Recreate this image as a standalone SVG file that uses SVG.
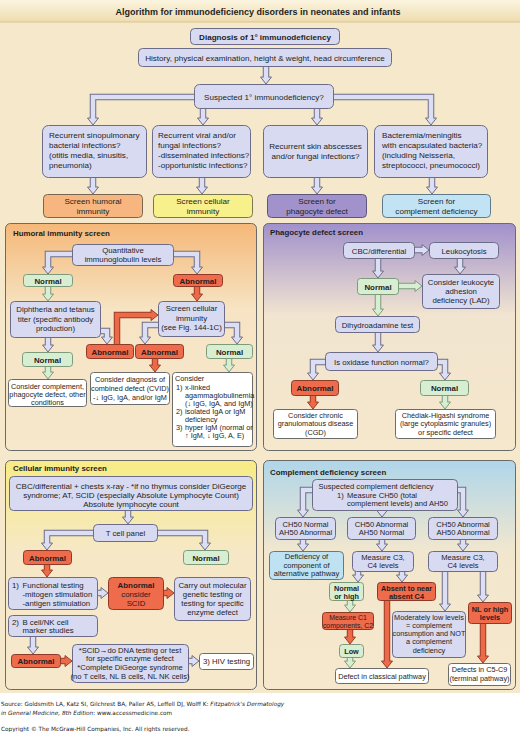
<svg xmlns="http://www.w3.org/2000/svg" width="520" height="732" viewBox="0 0 520 732">
<defs>
<linearGradient id="gT" x1="0" y1="0" x2="0" y2="1"><stop offset="0" stop-color="#fbf4e0"/><stop offset="1" stop-color="#eedcae"/></linearGradient>
<linearGradient id="gH" x1="0" y1="0" x2="0" y2="1"><stop offset="0" stop-color="#f5b878"/><stop offset="0.38" stop-color="#f6e4c4"/><stop offset="1" stop-color="#f6e8cc"/></linearGradient>
<linearGradient id="gP" x1="0" y1="0" x2="0" y2="1"><stop offset="0" stop-color="#a090cc"/><stop offset="0.4" stop-color="#f1e4d0"/><stop offset="1" stop-color="#f6e8cc"/></linearGradient>
<linearGradient id="gC" x1="0" y1="0" x2="0" y2="1"><stop offset="0" stop-color="#f7ec84"/><stop offset="0.4" stop-color="#f6e8c6"/><stop offset="1" stop-color="#f6e8cc"/></linearGradient>
<linearGradient id="gK" x1="0" y1="0" x2="0" y2="1"><stop offset="0" stop-color="#afd6ea"/><stop offset="0.4" stop-color="#f2e7ce"/><stop offset="1" stop-color="#f6e8cc"/></linearGradient>
<path id="hd" d="M-5.5,-7 L5.5,-7 L0,0 Z"/>
</defs>
<style>
.t{font-family:"Liberation Sans",Arial,Helvetica,sans-serif;fill:#1e1e1e}
.f8{font-size:8.1px}
.f78{font-size:7.8px}
.fk{font-size:7.6px}
.f7{font-size:7.3px}
.fb{font-size:7.9px;font-weight:bold}
.fkb{font-size:7.3px;font-weight:bold}
.m{text-anchor:middle}
.b{font-weight:bold}
.n{fill:#d7daf1;stroke:#6c6c88;stroke-width:1}
.nm{fill:#d8eed3;stroke:#7d9b7a;stroke-width:1}
.ab{fill:#ee6b4c;stroke:#8f3a27;stroke-width:1}
.w{fill:#ffffff;stroke:#6c6c6c;stroke-width:1}
.pan{stroke:#6a6a6a;stroke-width:1}
.o{fill:none;stroke-width:6.5}
.i{fill:none;stroke-width:4.5}
.L .o{stroke:#6c6c88}.L .i{stroke:#dcdef3}.L use{fill:#dcdef3;stroke:#6c6c88;stroke-width:1}
.G .o{stroke:#7d9b7a}.G .i{stroke:#d8eed3}.G use{fill:#d8eed3;stroke:#7d9b7a;stroke-width:1}
.R .o{stroke:#9a3d28}.R .i{stroke:#ec6a48}.R use{fill:#ec6a48;stroke:#9a3d28;stroke-width:1}
.ft{font-family:"DejaVu Sans",Verdana,sans-serif;font-size:5.75px;fill:#222}
</style>

<!-- background -->
<rect x="0" y="0" width="520" height="693" fill="#f6e8ca"/>
<rect x="0" y="0" width="520" height="22" fill="url(#gT)"/>
<line x1="0" y1="22" x2="520" y2="22" stroke="#d9c48e" stroke-width="1"/>
<text class="t b m" x="258" y="14.5" font-size="9px">Algorithm for immunodeficiency disorders in neonates and infants</text>

<!-- panels -->
<g id="panel-humoral"><rect class="pan" x="5.5" y="223.5" width="251" height="227" rx="5" fill="url(#gH)"/><text class="t fb" x="13" y="236">Humoral immunity screen</text></g>
<g id="panel-phagocyte"><rect class="pan" x="263.5" y="223.5" width="252" height="227" rx="5" fill="url(#gP)"/><text class="t fb" x="270" y="235">Phagocyte defect screen</text></g>
<g id="panel-cellular"><rect class="pan" x="5.5" y="460.5" width="251" height="229" rx="5" fill="url(#gC)"/><text class="t fb" x="13" y="471">Cellular immunity screen</text></g>
<g id="panel-complement"><rect class="pan" x="263.5" y="460.5" width="252" height="229" rx="5" fill="url(#gK)"/><text class="t fb" x="270" y="475">Complement deficiency screen</text></g>

<!-- connectors -->
<g id="connectors">
<g class="L"><path class="o" d="M266,64V77"/><use href="#hd" transform="translate(266,84)"/><path class="i" d="M266,64V78"/></g>
<g class="L"><path class="o" d="M198,97H93V118"/><use href="#hd" transform="translate(93,125)"/><path class="i" d="M198,97H93V119"/></g>
<g class="L"><path class="o" d="M203,106V118"/><use href="#hd" transform="translate(203,125)"/><path class="i" d="M203,106V119"/></g>
<g class="L"><path class="o" d="M317,106V118"/><use href="#hd" transform="translate(317,125)"/><path class="i" d="M317,106V119"/></g>
<g class="L"><path class="o" d="M329,97H431V118"/><use href="#hd" transform="translate(431,125)"/><path class="i" d="M329,97H431V119"/></g>
<g class="L"><path class="o" d="M93,176V187"/><use href="#hd" transform="translate(93,194)"/><path class="i" d="M93,176V188"/></g>
<g class="L"><path class="o" d="M202,176V187"/><use href="#hd" transform="translate(202,194)"/><path class="i" d="M202,176V188"/></g>
<g class="L"><path class="o" d="M317,176V187"/><use href="#hd" transform="translate(317,194)"/><path class="i" d="M317,176V188"/></g>
<g class="L"><path class="o" d="M432,176V187"/><use href="#hd" transform="translate(432,194)"/><path class="i" d="M432,176V188"/></g>

<g class="L"><path class="o" d="M76,254H48V267"/><use href="#hd" transform="translate(48,274)"/><path class="i" d="M76,254H48V268"/></g>
<g class="L"><path class="o" d="M169,254H197V267"/><use href="#hd" transform="translate(197,274)"/><path class="i" d="M169,254H197V268"/></g>
<g class="G"><path class="o" d="M48,285V294"/><use href="#hd" transform="translate(48,301)"/><path class="i" d="M48,285V295"/></g>
<g class="R"><path class="o" d="M197,285V294"/><use href="#hd" transform="translate(197,301)"/><path class="i" d="M197,285V295"/></g>
<g class="L"><path class="o" d="M48,336V345"/><use href="#hd" transform="translate(48,352)"/><path class="i" d="M48,336V346"/></g>
<g class="L"><path class="o" d="M96,331H107V337"/><use href="#hd" transform="translate(107,344)"/><path class="i" d="M96,331H107V338"/></g>
<g class="R"><path class="o" d="M117,346V315H151"/><use href="#hd" transform="translate(158,315) rotate(-90)"/><path class="i" d="M117,346V315H152"/></g>
<g class="L"><path class="o" d="M162,325H145V337"/><use href="#hd" transform="translate(145,344)"/><path class="i" d="M162,325H145V338"/></g>
<g class="L"><path class="o" d="M221,325H237V337"/><use href="#hd" transform="translate(237,344)"/><path class="i" d="M221,325H237V338"/></g>
<g class="R"><path class="o" d="M155,357V365"/><use href="#hd" transform="translate(155,372)"/><path class="i" d="M155,357V366"/></g>
<g class="G"><path class="o" d="M48,365V372"/><use href="#hd" transform="translate(48,379)"/><path class="i" d="M48,365V373"/></g>
<g class="G"><path class="o" d="M229,357V365"/><use href="#hd" transform="translate(229,372)"/><path class="i" d="M229,357V366"/></g>

<g class="L"><path class="o" d="M411,250H422"/><use href="#hd" transform="translate(429,250) rotate(-90)"/><path class="i" d="M411,250H423"/></g>
<g class="L"><path class="o" d="M378,257V271"/><use href="#hd" transform="translate(378,278)"/><path class="i" d="M378,257V272"/></g>
<g class="L"><path class="o" d="M460,257V267"/><use href="#hd" transform="translate(460,274)"/><path class="i" d="M460,257V268"/></g>
<g class="G"><path class="o" d="M396,286H415"/><use href="#hd" transform="translate(422,286) rotate(-90)"/><path class="i" d="M396,286H416"/></g>
<g class="G"><path class="o" d="M378,293V309"/><use href="#hd" transform="translate(378,316)"/><path class="i" d="M378,293V310"/></g>
<g class="L"><path class="o" d="M378,331V345"/><use href="#hd" transform="translate(378,352)"/><path class="i" d="M378,331V346"/></g>
<g class="L"><path class="o" d="M329,362H313V373"/><use href="#hd" transform="translate(313,380)"/><path class="i" d="M329,362H313V374"/></g>
<g class="L"><path class="o" d="M433,362H445V373"/><use href="#hd" transform="translate(445,380)"/><path class="i" d="M433,362H445V374"/></g>
<g class="R"><path class="o" d="M313,394V402"/><use href="#hd" transform="translate(313,409)"/><path class="i" d="M313,394V403"/></g>
<g class="G"><path class="o" d="M445,394V402"/><use href="#hd" transform="translate(445,409)"/><path class="i" d="M445,394V403"/></g>

<g class="L"><path class="o" d="M128,509V517"/><use href="#hd" transform="translate(128,524)"/><path class="i" d="M128,509V518"/></g>
<g class="L"><path class="o" d="M97,533H47V543"/><use href="#hd" transform="translate(47,550)"/><path class="i" d="M97,533H47V544"/></g>
<g class="L"><path class="o" d="M153,533H205V543"/><use href="#hd" transform="translate(205,550)"/><path class="i" d="M153,533H205V544"/></g>
<g class="R"><path class="o" d="M47,563V570"/><use href="#hd" transform="translate(47,577)"/><path class="i" d="M47,563V571"/></g>
<g class="L"><path class="o" d="M95,593H101"/><use href="#hd" transform="translate(108,593) rotate(-90)"/><path class="i" d="M95,593H102"/></g>
<g class="R"><path class="o" d="M161,593H167"/><use href="#hd" transform="translate(174,593) rotate(-90)"/><path class="i" d="M161,593H168"/></g>
<g class="L"><path class="o" d="M33,634V647"/><use href="#hd" transform="translate(33,654)"/><path class="i" d="M33,634V648"/></g>
<g class="R"><path class="o" d="M58,661H65"/><use href="#hd" transform="translate(72,661) rotate(-90)"/><path class="i" d="M58,661H66"/></g>
<g class="L"><path class="o" d="M186,661H192"/><use href="#hd" transform="translate(199,661) rotate(-90)"/><path class="i" d="M186,661H193"/></g>

<g class="L"><path class="o" d="M316,490H303V510"/><use href="#hd" transform="translate(303,517)"/><path class="i" d="M316,490H303V511"/></g>
<g class="L"><path class="o" d="M382,508V510"/><use href="#hd" transform="translate(382,517)"/><path class="i" d="M382,508V511"/></g>
<g class="L"><path class="o" d="M453,490H463V510"/><use href="#hd" transform="translate(463,517)"/><path class="i" d="M453,490H463V511"/></g>
<g class="L"><path class="o" d="M303,537V544"/><use href="#hd" transform="translate(303,551)"/><path class="i" d="M303,537V545"/></g>
<g class="L"><path class="o" d="M382,537V544"/><use href="#hd" transform="translate(382,551)"/><path class="i" d="M382,537V545"/></g>
<g class="L"><path class="o" d="M463,537V544"/><use href="#hd" transform="translate(463,551)"/><path class="i" d="M463,537V545"/></g>
<g class="L"><path class="o" d="M358,570V575"/><use href="#hd" transform="translate(358,582)"/><path class="i" d="M358,570V576"/></g>
<g class="L"><path class="o" d="M402,570V575"/><use href="#hd" transform="translate(402,582)"/><path class="i" d="M402,570V576"/></g>
<g class="L"><path class="o" d="M445,570V604"/><use href="#hd" transform="translate(445,611)"/><path class="i" d="M445,570V605"/></g>
<g class="L"><path class="o" d="M483,570V595"/><use href="#hd" transform="translate(483,602)"/><path class="i" d="M483,570V596"/></g>
<g class="G"><path class="o" d="M350,599V605"/><use href="#hd" transform="translate(350,612)"/><path class="i" d="M350,599V606"/></g>
<g class="R"><path class="o" d="M350,628V637"/><use href="#hd" transform="translate(350,644)"/><path class="i" d="M350,628V638"/></g>
<g class="G"><path class="o" d="M350,656V661"/><use href="#hd" transform="translate(350,668)"/><path class="i" d="M350,656V662"/></g>
<g class="R"><path class="o" d="M387,599V661"/><use href="#hd" transform="translate(387,668)"/><path class="i" d="M387,599V662"/></g>
<g class="R"><path class="o" d="M483,622V656"/><use href="#hd" transform="translate(483,663)"/><path class="i" d="M483,622V657"/></g>
</g>

<!-- top nodes -->
<g id="diagnosis"><rect class="n" x="190.5" y="28.5" width="149" height="16" rx="4"/><text class="t b f8 m" x="265" y="39.5">Diagnosis of 1° immunodeficiency</text></g>
<g id="history"><rect class="n" x="138.5" y="48.5" width="253" height="18" rx="4"/><text class="t f8 m" x="265" y="60.5">History, physical examination, height &amp; weight, head circumference</text></g>
<g id="suspected"><rect class="n" x="194.5" y="84.5" width="139" height="24" rx="5"/><text class="t f8 m" x="264" y="99.5">Suspected 1° immunodeficiency?</text></g>

<g id="q-humoral"><rect class="n" x="42.5" y="125.5" width="104" height="52" rx="6"/>
<text class="t f8" x="49" y="138">Recurrent sinopulmonary</text><text class="t f8" x="49" y="148">bacterial infections?</text><text class="t f8" x="49" y="158">(otitis media, sinusitis,</text><text class="t f8" x="49" y="168">pneumonia)</text></g>
<g id="q-cellular"><rect class="n" x="152.5" y="125.5" width="98" height="52" rx="6"/>
<text class="t f8" x="158" y="138">Recurrent viral and/or</text><text class="t f8" x="158" y="148">fungal infections?</text><text class="t f8" x="158" y="158">-disseminated infections?</text><text class="t f8" x="158" y="168">-opportunistic infections?</text></g>
<g id="q-phagocyte"><rect class="n" x="263.5" y="125.5" width="104" height="52" rx="6"/>
<text class="t f8 m" x="315.5" y="149">Recurrent skin abscesses</text><text class="t f8 m" x="315.5" y="159">and/or fungal infections?</text></g>
<g id="q-complement"><rect class="n" x="374.5" y="125.5" width="113" height="52" rx="6"/>
<text class="t f8" x="382" y="138">Bacteremia/meningitis</text><text class="t f8" x="382" y="148">with encapsulated bacteria?</text><text class="t f8" x="382" y="158">(including Neisseria,</text><text class="t f8" x="382" y="168">streptococci, pneumococci)</text></g>

<g id="s-humoral"><rect x="43.5" y="194.5" width="99" height="23" rx="4" fill="#f7b67f" stroke="#7a6650"/><text class="t f8 m" x="93" y="203.5">Screen humoral</text><text class="t f8 m" x="93" y="213.5">immunity</text></g>
<g id="s-cellular"><rect x="153.5" y="194.5" width="99" height="23" rx="4" fill="#f8f08b" stroke="#7a7650"/><text class="t f8 m" x="203" y="203.5">Screen cellular</text><text class="t f8 m" x="203" y="213.5">immunity</text></g>
<g id="s-phagocyte"><rect x="267.5" y="194.5" width="99" height="23" rx="4" fill="#a292cb" stroke="#5e567a"/><text class="t f8 m" x="317" y="203.5">Screen for</text><text class="t f8 m" x="317" y="213.5">phagocyte defect</text></g>
<g id="s-complement"><rect x="382.5" y="194.5" width="108" height="23" rx="4" fill="#c2e3f3" stroke="#5f7a88"/><text class="t f8 m" x="436.5" y="203.5">Screen for</text><text class="t f8 m" x="436.5" y="213.5">complement deficiency</text></g>

<!-- humoral nodes -->
<g id="h-quant"><rect class="n" x="72.5" y="244.5" width="101" height="21" rx="4"/><text class="t f78 m" x="123" y="253">Quantitative</text><text class="t f78 m" x="123" y="262">immunoglobulin levels</text></g>
<g id="h-normal1"><rect class="nm" x="23.5" y="274.5" width="49" height="12" rx="3"/><text class="t fb m" x="48" y="283.5">Normal</text></g>
<g id="h-abn1"><rect class="ab" x="173.5" y="274.5" width="49" height="12" rx="3"/><text class="t fb m" x="198" y="283.5">Abnormal</text></g>
<g id="h-diph"><rect class="n" x="10.5" y="301.5" width="90" height="36" rx="4"/><text class="t f78 m" x="55.5" y="312">Diphtheria and tetanus</text><text class="t f78 m" x="55.5" y="321.5">titer (specific antibody</text><text class="t f78 m" x="55.5" y="331">production)</text></g>
<g id="h-screencell"><rect class="n" x="158.5" y="301.5" width="66" height="35" rx="4"/><text class="t f78 m" x="191.5" y="311">Screen cellular</text><text class="t f78 m" x="191.5" y="320.5">immunity</text><text class="t f78 m" x="191.5" y="330">(see Fig. 144-1C)</text></g>
<g id="h-abn2"><rect class="ab" x="86.5" y="344.5" width="47" height="14" rx="3"/><text class="t fb m" x="110" y="354.5">Abnormal</text></g>
<g id="h-abn3"><rect class="ab" x="135.5" y="344.5" width="48" height="14" rx="3"/><text class="t fb m" x="159.5" y="354.5">Abnormal</text></g>
<g id="h-normal3"><rect class="nm" x="206.5" y="344.5" width="46" height="14" rx="3"/><text class="t fb m" x="229.5" y="354.5">Normal</text></g>
<g id="h-normal2"><rect class="nm" x="22.5" y="352.5" width="50" height="14" rx="3"/><text class="t fb m" x="47.5" y="362.5">Normal</text></g>
<g id="h-other"><rect class="w" x="8.5" y="379.5" width="78" height="27" rx="3"/><text class="t f7 m" x="47.5" y="389">Consider complement,</text><text class="t f7 m" x="47.5" y="397">phagocyte defect, other</text><text class="t f7 m" x="47.5" y="405">conditions</text></g>
<g id="h-cvid"><rect class="w" x="90.5" y="372.5" width="79" height="32" rx="3"/><text class="t f7 m" x="130" y="381.5">Consider diagnosis of</text><text class="t f7 m" x="130" y="390.5">combined defect (CVID)</text><text class="t f7 m" x="130" y="399.5">-↓ IgG, IgA, and/or IgM</text></g>
<g id="h-consider"><rect class="w" x="172.5" y="372.5" width="80" height="74" rx="3"/>
<text class="t f7" x="175" y="381">Consider</text>
<text class="t f7" x="176" y="389.5">1)</text><text class="t f7" x="185" y="389.5">x-linked</text>
<text class="t f7" x="185" y="397.5">agammaglobulinemia</text>
<text class="t f7" x="185" y="405.5">(↓ IgG, IgA, and IgM)</text>
<text class="t f7" x="176" y="413.5">2)</text><text class="t f7" x="185" y="413.5">isolated IgA or IgM</text>
<text class="t f7" x="185" y="421.5">deficiency</text>
<text class="t f7" x="176" y="429.5">3)</text><text class="t f7" x="185" y="429.5">hyper IgM (normal or</text>
<text class="t f7" x="185" y="437.5">↑ IgM, ↓ IgG, A, E)</text></g>

<!-- phagocyte nodes -->
<g id="p-cbc"><rect class="n" x="343.5" y="242.5" width="71" height="16" rx="4"/><text class="t f78 m" x="379" y="253.5">CBC/differential</text></g>
<g id="p-leuko"><rect class="n" x="429.5" y="242.5" width="69" height="16" rx="4"/><text class="t f78 m" x="464" y="253.5">Leukocytosis</text></g>
<g id="p-normal"><rect class="nm" x="357.5" y="278.5" width="41" height="16" rx="3"/><text class="t fb m" x="378" y="289.5">Normal</text></g>
<g id="p-lad"><rect class="n" x="422.5" y="274.5" width="77" height="34" rx="4"/><text class="t f78 m" x="461" y="284.5">Consider leukocyte</text><text class="t f78 m" x="461" y="293.5">adhesion</text><text class="t f78 m" x="461" y="302.5">deficiency (LAD)</text></g>
<g id="p-dhr"><rect class="n" x="335.5" y="316.5" width="84" height="16" rx="4"/><text class="t f78 m" x="377.5" y="327.5">Dihydroadamine test</text></g>
<g id="p-oxidase"><rect class="n" x="325.5" y="352.5" width="112" height="18" rx="4"/><text class="t f78 m" x="381.5" y="364.5">Is oxidase function normal?</text></g>
<g id="p-abn"><rect class="ab" x="291.5" y="380.5" width="47" height="15" rx="3"/><text class="t fb m" x="315" y="391">Abnormal</text></g>
<g id="p-norm2"><rect class="nm" x="420.5" y="380.5" width="48" height="15" rx="3"/><text class="t fb m" x="444.5" y="391">Normal</text></g>
<g id="p-cgd"><rect class="w" x="273.5" y="409.5" width="84" height="29" rx="3"/><text class="t f7 m" x="315.5" y="417.5">Consider chronic</text><text class="t f7 m" x="315.5" y="426">granulomatous disease</text><text class="t f7 m" x="315.5" y="434.5">(CGD)</text></g>
<g id="p-chs"><rect class="w" x="395.5" y="409.5" width="100" height="29" rx="3"/><text class="t f7 m" x="445.5" y="417.5">Chédiak-Higashi syndrome</text><text class="t f7 m" x="445.5" y="426">(large cytoplasmic granules)</text><text class="t f7 m" x="445.5" y="434.5">or specific defect</text></g>

<!-- cellular nodes -->
<g id="c-cbc"><rect class="n" x="9.5" y="476.5" width="243" height="34" rx="4"/><text class="t m" font-size="8px" x="131" y="488.5">CBC/differential + chests x-ray - *if no thymus consider DiGeorge</text><text class="t m" font-size="8px" x="131" y="497.5">syndrome; AT, SCID (especially Absolute Lymphocyte Count)</text><text class="t m" font-size="8px" x="131" y="506.5">Absolute lymphocyte count</text></g>
<g id="c-tcell"><rect class="n" x="93.5" y="524.5" width="64" height="17" rx="4"/><text class="t f78 m" x="125.5" y="535.5">T cell panel</text></g>
<g id="c-abn"><rect class="ab" x="23.5" y="550.5" width="48" height="14" rx="3"/><text class="t fb m" x="47.5" y="560.5">Abnormal</text></g>
<g id="c-normal"><rect class="nm" x="183.5" y="550.5" width="45" height="14" rx="3"/><text class="t fb m" x="206" y="560.5">Normal</text></g>
<g id="c-func"><rect class="n" x="8.5" y="577.5" width="89" height="32" rx="4"/><text class="t f78" x="12" y="587.5">1)</text><text class="t f78" x="22.5" y="587.5">Functional testing</text><text class="t f78" x="22.5" y="596.5">-mitogen stimulation</text><text class="t f78" x="22.5" y="605.5">-antigen stimulation</text></g>
<g id="c-scid"><rect class="ab" x="108.5" y="577.5" width="55" height="32" rx="4"/><text class="t fb m" x="136" y="588">Abnormal</text><text class="t f78 m" x="136" y="597">consider</text><text class="t f78 m" x="136" y="606">SCID</text></g>
<g id="c-molec"><rect class="n" x="174.5" y="577.5" width="76" height="43" rx="4"/><text class="t f78 m" x="212.5" y="588">Carry out molecular</text><text class="t f78 m" x="212.5" y="597">genetic testing or</text><text class="t f78 m" x="212.5" y="606">testing for specific</text><text class="t f78 m" x="212.5" y="615">enzyme defect</text></g>
<g id="c-bcell"><rect class="n" x="8.5" y="615.5" width="89" height="21" rx="4"/><text class="t f78" x="12" y="624.5">2)</text><text class="t f78" x="22.5" y="624.5">B cell/NK cell</text><text class="t f78" x="22.5" y="633">marker studies</text></g>
<g id="c-abn2"><rect class="ab" x="11.5" y="654.5" width="49" height="13" rx="3"/><text class="t fb m" x="36" y="664">Abnormal</text></g>
<g id="c-dna"><rect class="n" x="72.5" y="644.5" width="116" height="38" rx="4"/><text class="t fk m" x="130" y="652.5">*SCID→do DNA testing or test</text><text class="t fk m" x="130" y="661">for specific enzyme defect</text><text class="t fk m" x="130" y="669.5">*Complete DiGeorge syndrome</text><text class="t fk m" x="130" y="678.5">(no T cells, NL B cells, NL NK cells)</text></g>
<g id="c-hiv"><rect class="w" x="199.5" y="653.5" width="54" height="16" rx="3"/><text class="t f78 m" x="226.5" y="664">3)  HIV testing</text></g>

<!-- complement nodes -->
<g id="k-susp"><rect class="n" x="312.5" y="479.5" width="145" height="31" rx="4"/><text class="t fk m" x="376" y="488.5">Suspected complement deficiency</text><text class="t fk" x="337" y="497.5">1)</text><text class="t fk" x="347" y="497.5">Measure CH50 (total</text><text class="t fk" x="347" y="505.5">complement levels) and AH50</text></g>
<g id="k-b1"><rect class="n" x="275.5" y="517.5" width="60" height="22" rx="4"/><text class="t fk m" x="305.5" y="526.5">CH50 Normal</text><text class="t fk m" x="305.5" y="535">AH50 Abnormal</text></g>
<g id="k-b2"><rect class="n" x="347.5" y="517.5" width="68" height="22" rx="4"/><text class="t fk m" x="381.5" y="526.5">CH50 Abnormal</text><text class="t fk m" x="381.5" y="535">AH50 Normal</text></g>
<g id="k-b3"><rect class="n" x="428.5" y="517.5" width="69" height="22" rx="4"/><text class="t fk m" x="463" y="526.5">CH50 Abnormal</text><text class="t fk m" x="463" y="535">AH50 Abnormal</text></g>
<g id="k-alt"><rect x="269.5" y="551.5" width="74" height="28" rx="4" fill="#bfe2f3" stroke="#5f7a88"/><text class="t fk m" x="306.5" y="559">Deficiency of</text><text class="t fk m" x="306.5" y="567.5">component of</text><text class="t fk m" x="306.5" y="576">alternative pathway</text></g>
<g id="k-c3a"><rect class="n" x="352.5" y="551.5" width="61" height="20" rx="4"/><text class="t fk m" x="383" y="559.5">Measure C3,</text><text class="t fk m" x="383" y="568">C4 levels</text></g>
<g id="k-c3b"><rect class="n" x="428.5" y="551.5" width="69" height="20" rx="4"/><text class="t fk m" x="463" y="559.5">Measure C3,</text><text class="t fk m" x="463" y="568">C4 levels</text></g>
<g id="k-normhigh"><rect class="nm" x="329.5" y="582.5" width="34" height="18" rx="3"/><text class="t fkb m" x="346.5" y="590.5">Normal</text><text class="t fkb m" x="346.5" y="598.5">or  high</text></g>
<g id="k-absent"><rect class="ab" x="377.5" y="582.5" width="58" height="18" rx="3"/><text class="t fkb m" x="406.5" y="590.5">Absent to near</text><text class="t fkb m" x="406.5" y="598.5">absent C4</text></g>
<g id="k-c1"><rect class="ab" x="322.5" y="612.5" width="51" height="17" rx="3"/><text class="t m" font-size="6.9px" x="348" y="619.5">Measure C1</text><text class="t m" font-size="6.9px" x="348" y="627.5">components, C2</text></g>
<g id="k-low"><rect class="nm" x="339.5" y="644.5" width="24" height="13" rx="3"/><text class="t fkb m" x="351.5" y="654">Low</text></g>
<g id="k-classical"><rect class="w" x="335.5" y="668.5" width="93" height="15" rx="3"/><text class="t f7 m" x="382" y="679">Defect in classical pathway</text></g>
<g id="k-modlow"><rect class="n" x="392.5" y="611.5" width="73" height="46" rx="4"/><text class="t f7 m" x="429" y="619.5">Moderately low levels</text><text class="t f7 m" x="429" y="627.5">= complement</text><text class="t f7 m" x="429" y="635.5">consumption and NOT</text><text class="t f7 m" x="429" y="644">a complement</text><text class="t f7 m" x="429" y="652.5">deficiency</text></g>
<g id="k-nlhigh"><rect class="ab" x="468.5" y="602.5" width="43" height="21" rx="3"/><text class="t fkb m" x="490" y="611.5">NL or high</text><text class="t fkb m" x="490" y="619.5">levels</text></g>
<g id="k-terminal"><rect class="w" x="448.5" y="663.5" width="62" height="22" rx="3"/><text class="t f7 m" x="479.5" y="672">Defects in C5-C9</text><text class="t f7 m" x="479.5" y="680.5">(terminal pathway)</text></g>

<!-- footer -->
<text class="ft" x="1" y="706">Source: Goldsmith LA, Katz SI, Gilchrest BA, Paller AS, Leffell DJ, Wolff K: <tspan font-style="italic">Fitzpatrick's Dermatology</tspan></text>
<text class="ft" x="1" y="714.5"><tspan font-style="italic">in General Medicine, 8th Edition</tspan>: www.accessmedicine.com</text>
<text class="ft" x="1" y="731">Copyright © The McGraw-Hill Companies, Inc. All rights reserved.</text>
</svg>
